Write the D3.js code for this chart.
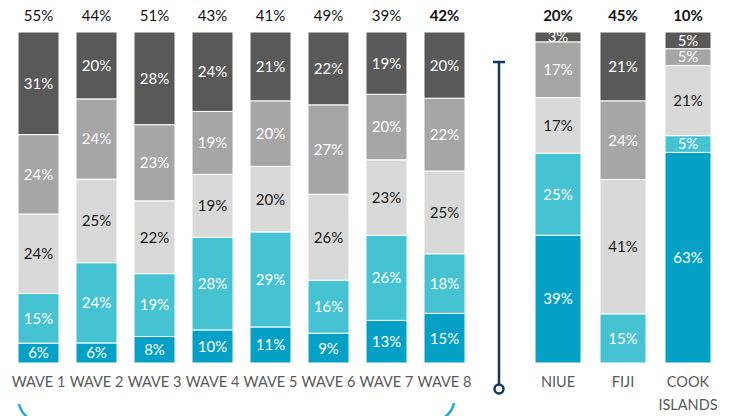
<!DOCTYPE html>
<html><head><meta charset="utf-8">
<script src="https://cdn.jsdelivr.net/npm/d3@7"></script>
<style>body{margin:0;background:#fff;} svg{display:block;font-family:Lato,"Open Sans",sans-serif;}</style>
</head><body>
<svg id="chart" width="735" height="416"></svg>
<script>
const waves = ["WAVE 1","WAVE 2","WAVE 3","WAVE 4","WAVE 5","WAVE 6","WAVE 7","WAVE 8"];
const countries = ["NIUE","FIJI","COOK ISLANDS"];
const categories = waves.concat(countries);
const seg1 = [6,6,8,10,11,9,13,15, 39,0,63];      // dark teal (bottom)
const seg2 = [15,24,19,28,29,16,26,18, 25,15,5];  // light teal
const seg3 = [24,25,22,19,20,26,23,25, 17,41,21]; // light gray
const seg4 = [24,24,23,19,20,27,20,22, 17,24,5];  // mid gray
const seg5 = [31,20,28,24,21,22,19,20, 3,21,5];   // dark gray (top)
const topTotals = [55,44,51,43,41,49,39,42, 20,45,10];
const boldTop = [false,false,false,false,false,false,false,true, true,true,true];

const keys = ["s1","s2","s3","s4","s5"];
const colors = {s1:"#04A0C5", s2:"#45C3D2", s3:"#D9D9D9", s4:"#A6A6A6", s5:"#595959"};
const textColors = {s1:"#fff", s2:"#fff", s3:"#1a1a1a", s4:"#fff", s5:"#fff"};

const rows = categories.map((c,i)=>({cat:c, s1:seg1[i], s2:seg2[i], s3:seg3[i], s4:seg4[i], s5:seg5[i], top:topTotals[i], bold:boldTop[i]}));

const svg = d3.select("#chart");
const xL = d3.scaleBand().domain(waves).range([18,465]).paddingInner(0.293).paddingOuter(0);
const xR = d3.scaleBand().domain(countries).range([535,711]).paddingInner(0.292).paddingOuter(0);
const xPos = c => waves.includes(c) ? xL(c) : xR(c);
const bw = c => waves.includes(c) ? xL.bandwidth() : xR.bandwidth();
const y = d3.scaleLinear().domain([0,1]).range([363,32]);

const stacked = d3.stack().keys(keys).offset(d3.stackOffsetExpand)(rows);

stacked.forEach(layer=>{
  const g = svg.append("g");
  layer.forEach(d=>{
    const v = d.data[layer.key];
    if (v <= 0) return;
    const c = d.data.cat;
    g.append("rect")
      .attr("x", xPos(c)).attr("width", bw(c))
      .attr("y", y(d[1])).attr("height", y(d[0]) - y(d[1]))
      .attr("fill", colors[layer.key])
      .attr("stroke", "#fff").attr("stroke-width", 1);
    g.append("text")
      .attr("x", xPos(c) + bw(c)/2)
      .attr("y", (y(d[0]) + y(d[1]))/2)
      .attr("dy", "0.36em")
      .attr("text-anchor", "middle")
      .attr("font-size", 15)
      .attr("fill", textColors[layer.key])
      .text(v + "%");
  });
});

// top totals
svg.append("g").selectAll("text").data(rows).join("text")
  .attr("x", d => xPos(d.cat) + bw(d.cat)/2)
  .attr("y", 16).attr("dy","0.36em")
  .attr("text-anchor","middle")
  .attr("font-size", 15)
  .attr("font-weight", d => d.bold ? "bold" : "normal")
  .attr("fill", "#111")
  .text(d => d.top + "%");

// x axis labels
const axL = d3.axisBottom(xL).tickSize(0).tickPadding(0);
const axR = d3.axisBottom(xR).tickSize(0).tickPadding(0);
[axL, axR].forEach(ax=>{
  const g = svg.append("g").attr("transform","translate(0,377)").call(ax);
  g.select(".domain").remove();
  g.selectAll("text").attr("font-size",14.5).attr("fill","#595959").attr("font-family","Lato,'Open Sans',sans-serif")
    .attr("dy","0.71em")
    .each(function(t){
      const words = t.split(" ");
      if (t === "COOK ISLANDS") {
        const el = d3.select(this); el.text(null);
        words.forEach((w,i)=> el.append("tspan").attr("x",0).attr("dy", i===0 ? "0.71em" : "1.55em").text(w));
      }
    });
});

// timeline marker
const navy = "#14375E";
svg.append("line").attr("x1",499).attr("x2",499).attr("y1",62).attr("y2",385).attr("stroke",navy).attr("stroke-width",2.5);
svg.append("line").attr("x1",493).attr("x2",505).attr("y1",62).attr("y2",62).attr("stroke",navy).attr("stroke-width",2.5);
svg.append("circle").attr("cx",499).attr("cy",389).attr("r",4.5).attr("fill","#fff").attr("stroke",navy).attr("stroke-width",2.5);

// cyan bracket hints at bottom
const cyan = "#1AADD0";
svg.append("path").attr("d","M19,404 Q21,412 27,417").attr("fill","none").attr("stroke",cyan).attr("stroke-width",2.5);
svg.append("path").attr("d","M454,403 Q452,412 445,417").attr("fill","none").attr("stroke",cyan).attr("stroke-width",2.5);
</script>
</body></html>
